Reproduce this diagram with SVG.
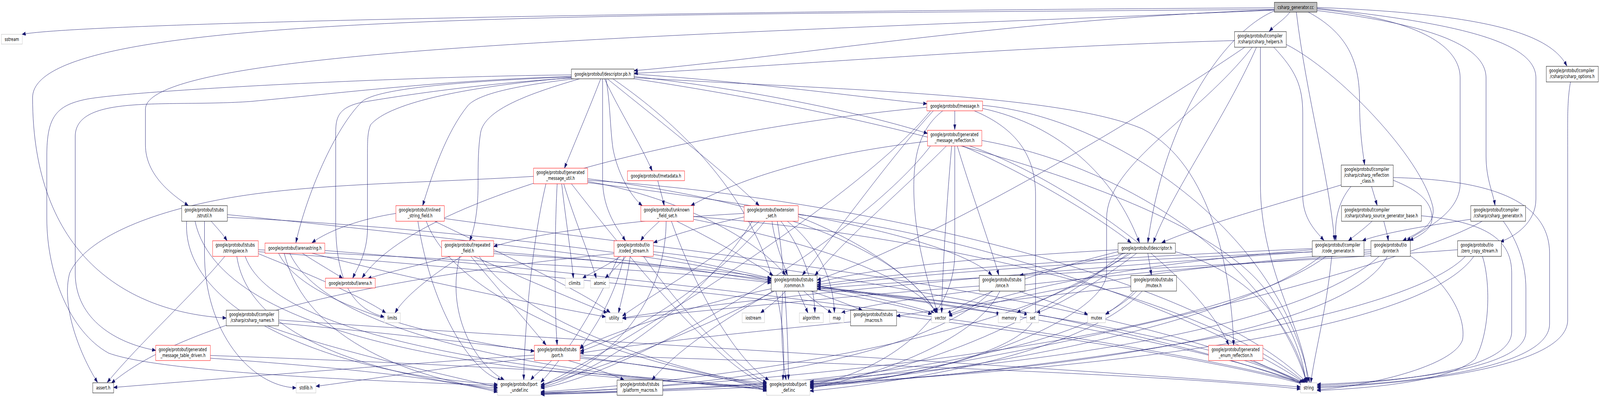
<svg xmlns="http://www.w3.org/2000/svg" width="5743" height="1020" viewBox="0 0 5743 1020" preserveAspectRatio="none">
<style>
:root{width:100vw;height:100vh}
.n rect{fill:#fff;stroke-width:1}
.k{stroke:#000}
.r{stroke:#f00}
.g{stroke:#bfbfbf}
rect.root{fill:#bfbfbf;stroke:#000}
text{font-family:"DejaVu Sans","Liberation Sans",sans-serif;font-size:12.8px;fill:#000}
.c{text-anchor:middle}
#edges path{fill:none;stroke:#191970;stroke-width:1;marker-end:url(#a)}
</style>
<defs>
<marker id="a" markerUnits="userSpaceOnUse" markerWidth="14" markerHeight="10" refX="13" refY="5" orient="auto">
<path d="M0,0.5 L13,5 L0,9.5 z" fill="#191970" stroke="#191970" stroke-width="1"/>
</marker>
</defs>
<rect x="0" y="0" width="5743" height="1020" fill="#fff"/>
<g id="edges">
<path d="M4574,20 C2500,28 300,58 79,88"/>
<path d="M4574,24 C2000,40 117,30 117,250 C117,650 450,800 812,815"/>
<path d="M4574,26 C2500,90 522,120 522,280 L522,371 C522,450 620,500 676,527"/>
<path d="M4574,25 C3600,50 2800,150 2276,181"/>
<path d="M4630,31 C4610,50 4580,62 4556,80"/>
<path d="M4574,28 C4400,80 4180,300 4120,622"/>
<path d="M4653,31 C4690,250 4770,450 4790,616"/>
<path d="M4696,31 C4850,90 4880,170 4880,260 C4880,340 4892,390 4898,422"/>
<path d="M4727,23 C5100,50 5241,120 5241,200 L5241,470 C5241,550 5100,590 5050,617"/>
<path d="M4727,27 C5100,60 5334,110 5334,200 L5334,400 C5334,460 5360,495 5366,526"/>
<path d="M4727,21 C5250,60 5513,110 5513,200 L5513,510 C5513,570 5440,605 5385,620"/>
<path d="M4727,19 C5300,35 5560,80 5624,169"/>
<path d="M4431,104 C3600,120 2800,170 2276,188"/>
<path d="M4510,121 C4400,300 4200,500 4140,622"/>
<path d="M4572,121 C4650,180 4676,220 4676,290 L4676,500 C4676,560 4720,590 4752,616"/>
<path d="M4617,114 C4800,180 5100,400 5143,530 C5155,580 5080,600 5035,617"/>
<path d="M4524,121 L4524,470 C4524,700 4690,850 4693,980"/>
<path d="M4468,121 C4100,300 3400,600 2933,718"/>
<path d="M4495,121 C4300,300 3972,420 3972,560 L3972,700 C3972,800 3500,960 2907,992"/>
<path d="M5637,210 C5625,260 5627,300 5627,400 L5627,820 C5627,950 5000,985 4728,994"/>
<path d="M2156,202 C2120,270 2060,370 2026,431"/>
<path d="M2170,202 C2220,280 2300,370 2341,438"/>
<path d="M2175,202 C2190,260 2190,330 2200,380 C2215,440 2260,500 2305,527"/>
<path d="M2163,202 L2163,460 C2163,540 2220,590 2245,617"/>
<path d="M2180,202 C2350,300 2600,440 2725,527"/>
<path d="M2051,196 C1600,205 1200,240 900,260 C600,275 270,240 270,350 L270,700 C270,820 420,880 559,898"/>
<path d="M2051,192 C1500,195 500,230 312,254 C200,270 168,300 168,400 L168,560 C168,700 250,850 390,905 C600,960 1500,980 1786,988"/>
<path d="M2051,199 C1700,220 1400,260 1330,320 C1319,340 1319,360 1319,400 L1319,585 C1319,650 1280,690 1266,713"/>
<path d="M2051,197 C1600,210 1350,230 1300,260 C1200,330 1100,500 1062,622"/>
<path d="M2060,202 C1850,220 1720,240 1680,270 C1600,340 1550,450 1517,527"/>
<path d="M2080,202 C1900,240 1740,280 1725,340 C1716,380 1716,420 1716,470 C1716,560 1695,600 1686,617"/>
<path d="M2051,200 C1700,215 1400,250 1300,262 C1215,275 1205,300 1205,340 L1205,570 C1205,700 1250,790 1379,812"/>
<path d="M2276,196 C2700,230 3100,290 3329,342"/>
<path d="M2276,190 C2700,210 3100,250 3327,266"/>
<path d="M2276,199 C3000,230 3800,240 4100,330 C4350,420 4420,700 4428,885"/>
<path d="M2276,202 C3200,300 4300,500 4550,750 C4660,860 4680,940 4688,981"/>
<path d="M2200,202 C2500,350 2850,600 2810,974"/>
<path d="M3427,284 L3427,332"/>
<path d="M3384,284 C3300,330 3280,400 3280,480 C3280,620 3340,740 3365,802"/>
<path d="M3527,278 C3800,320 4000,450 4090,622"/>
<path d="M3350,284 C3200,400 3000,600 2880,705"/>
<path d="M3327,275 C2500,330 1500,500 1300,712"/>
<path d="M3497,284 C3650,330 3717,400 3717,500 L3717,800 C3717,900 3200,980 2907,988"/>
<path d="M3340,284 C3100,500 2200,900 1941,990"/>
<path d="M3527,270 C4000,300 4600,600 4700,980"/>
<path d="M3416,374 C3400,500 3382,700 3380,802"/>
<path d="M3436,374 C3480,480 3560,640 3585,705"/>
<path d="M3455,374 C3700,450 3950,560 4060,622"/>
<path d="M3480,374 C3800,450 4300,700 4410,884"/>
<path d="M3329,362 C3000,390 2700,440 2480,527"/>
<path d="M3397,374 C3250,480 3050,600 2925,706"/>
<path d="M3524,360 C4000,420 4550,650 4690,980"/>
<path d="M3427,374 L3427,650 C3427,850 3100,970 2907,985"/>
<path d="M3340,374 C3100,600 2300,950 1941,995"/>
<path d="M2361,463 C2368,485 2378,505 2384,527"/>
<path d="M2016,470 C2030,560 2050,650 2058,713"/>
<path d="M2023,470 C2060,560 2120,660 2140,713"/>
<path d="M1915,452 C1500,470 1100,470 800,510 C500,550 300,620 250,700 C220,780 280,900 350,980"/>
<path d="M2109,462 C3000,500 4300,700 4690,980"/>
<path d="M2109,458 C2600,500 3200,600 3360,802"/>
<path d="M2109,465 C2400,500 2700,600 2820,705"/>
<path d="M2109,468 C2700,520 3400,600 3560,705"/>
<path d="M2000,470 C1990,600 1990,800 2000,884"/>
<path d="M2050,470 C2300,700 2600,950 2752,985"/>
<path d="M1960,470 C1900,650 1880,900 1880,973"/>
<path d="M4814,474 C4600,520 4300,580 4170,622"/>
<path d="M4849,478 C4800,520 4790,570 4795,616"/>
<path d="M4923,478 L4943,526"/>
<path d="M5001,462 C5100,490 5140,520 5140,560 C5140,590 5090,605 5060,617"/>
<path d="M5001,455 C5300,460 5562,500 5562,650 L5562,830 C5562,950 5000,985 4728,991"/>
<path d="M758,567 C780,585 800,600 815,617"/>
<path d="M734,567 L734,650 C734,850 900,990 1063,994"/>
<path d="M816,550 C1500,600 2800,700 3345,805"/>
<path d="M816,557 C1500,580 2400,650 2768,720"/>
<path d="M700,567 C800,900 2000,970 2752,990"/>
<path d="M670,567 C650,800 1200,960 1786,985"/>
<path d="M1421,547 C1300,560 1180,590 1120,622"/>
<path d="M1595,560 C2500,650 4000,750 4680,981"/>
<path d="M1560,567 C1800,650 2100,750 2190,801"/>
<path d="M1530,567 C1650,800 2400,960 2752,982"/>
<path d="M1500,567 C1550,800 1700,960 1800,974"/>
<path d="M2367,567 C2340,585 2315,600 2300,617"/>
<path d="M2429,567 C2550,610 2700,670 2775,706"/>
<path d="M2489,555 C3300,600 4300,750 4685,981"/>
<path d="M2489,562 C2900,620 3250,700 3365,802"/>
<path d="M2410,567 C2500,750 2650,930 2760,974"/>
<path d="M2391,567 C2390,700 2300,900 1941,990"/>
<path d="M2671,556 C2550,575 2420,600 2346,622"/>
<path d="M2771,567 C2780,620 2810,670 2826,705"/>
<path d="M2803,567 C2860,620 2920,700 2925,801"/>
<path d="M2826,567 C2920,620 2990,700 2995,801"/>
<path d="M2725,567 C2600,650 2350,750 2234,810"/>
<path d="M2745,567 C2600,700 2300,850 2083,900"/>
<path d="M2865,555 C3100,620 3300,720 3360,802"/>
<path d="M2865,550 C3500,600 4300,800 4683,981"/>
<path d="M2671,547 C2300,560 1900,600 1772,632"/>
<path d="M2790,567 C2820,700 2830,900 2830,973"/>
<path d="M2700,567 C2500,800 2100,970 1941,992"/>
<path d="M4925,567 C4890,590 4860,605 4840,617"/>
<path d="M4967,567 C4973,585 4980,600 4983,617"/>
<path d="M5102,553 C5350,570 5426,620 5426,700 L5426,850 C5426,950 5000,980 4728,988"/>
<path d="M5279,562 C5100,580 4950,600 4890,617"/>
<path d="M5396,567 C5450,620 5477,680 5477,740 L5477,850 C5477,950 5000,978 4728,985"/>
<path d="M5320,567 C5000,700 3500,950 2907,980"/>
<path d="M807,657 C700,750 500,880 385,980"/>
<path d="M927,650 C1100,700 1300,760 1385,802"/>
<path d="M927,645 C2000,700 4000,850 4680,985"/>
<path d="M927,640 C1500,660 2400,690 2768,725"/>
<path d="M880,657 C1000,900 2200,970 2752,995"/>
<path d="M850,657 C900,900 1500,975 1786,995"/>
<path d="M1085,649 C1130,670 1190,695 1230,713"/>
<path d="M1166,642 C2200,700 4000,850 4683,982"/>
<path d="M1120,649 C1500,720 2000,790 2174,812"/>
<path d="M1000,649 C1100,800 1700,880 1918,900"/>
<path d="M1040,649 C1200,900 2300,975 2752,998"/>
<path d="M1020,649 C1100,880 1500,970 1786,1000"/>
<path d="M1618,657 C1500,680 1380,700 1320,714"/>
<path d="M1657,657 C1560,700 1450,760 1418,802"/>
<path d="M1700,657 C1900,720 2100,780 2180,802"/>
<path d="M1772,645 C2800,700 4200,850 4683,984"/>
<path d="M1772,650 C2200,670 2600,690 2768,715"/>
<path d="M1690,657 C1800,750 1920,850 1960,884"/>
<path d="M1720,657 C1900,850 2500,960 2752,988"/>
<path d="M1650,657 C1600,800 1700,930 1810,974"/>
<path d="M2228,657 C2180,680 2120,700 2091,713"/>
<path d="M2247,657 C2220,680 2190,700 2172,713"/>
<path d="M2262,657 C2250,720 2230,770 2220,802"/>
<path d="M2204,650 C1500,700 700,800 400,982"/>
<path d="M2345,645 C3000,700 4200,850 4684,987"/>
<path d="M2345,652 C2500,670 2650,695 2768,713"/>
<path d="M2240,657 C2200,780 2120,850 2082,895"/>
<path d="M2310,657 C2450,800 2650,950 2752,980"/>
<path d="M2220,657 C2100,850 1980,950 1941,980"/>
<path d="M4120,649 L4133,705"/>
<path d="M4060,649 C3900,720 3700,780 3650,802"/>
<path d="M4080,649 C3950,720 3780,790 3720,802"/>
<path d="M4013,645 C3700,700 3500,760 3400,804"/>
<path d="M4219,645 C4500,700 4650,850 4690,981"/>
<path d="M4013,640 C3500,660 3100,690 2933,725"/>
<path d="M4040,649 C3850,680 3700,700 3660,706"/>
<path d="M4030,649 C3700,850 3200,970 2907,978"/>
<path d="M4050,649 C3600,900 2300,990 1941,1004"/>
<path d="M4780,657 C4760,800 4720,900 4705,981"/>
<path d="M4710,640 C4000,680 3600,750 3400,808"/>
<path d="M4710,645 C3800,690 2700,760 2234,815"/>
<path d="M4710,637 C4000,660 3300,690 2933,730"/>
<path d="M4740,657 C4400,850 3300,970 2907,983"/>
<path d="M4760,657 C4300,900 2500,990 1941,1008"/>
<path d="M5061,655 C5180,716 5263,800 5250,870 C5220,940 4900,990 4728,999"/>
<path d="M4921,650 C4000,700 3200,760 3020,802"/>
<path d="M4921,645 C4100,690 3600,760 3405,810"/>
<path d="M4921,640 C4100,660 3300,700 2933,735"/>
<path d="M4980,657 C4800,900 3300,970 2907,986"/>
<path d="M4950,657 C4500,950 2500,995 1941,1010"/>
<path d="M5321,657 C5350,720 5350,850 5295,920 C5200,980 4900,995 4728,1001"/>
<path d="M5232,640 C4500,680 3400,710 2933,740"/>
<path d="M5260,657 C5000,850 3400,970 2907,990"/>
<path d="M5290,657 C5000,950 2600,1000 1941,1011"/>
<path d="M2820,746 C2790,770 2750,790 2730,802"/>
<path d="M2865,746 L2900,802"/>
<path d="M2885,746 C2920,770 2960,790 2985,802"/>
<path d="M2933,735 C3200,760 3450,790 3590,804"/>
<path d="M2933,738 C3300,760 3600,790 3690,806"/>
<path d="M2933,732 C3100,755 3280,785 3355,803"/>
<path d="M2933,742 C3700,780 4500,900 4680,988"/>
<path d="M2910,746 C2990,765 3060,785 3095,795"/>
<path d="M2774,746 C2650,800 2450,880 2340,974"/>
<path d="M2768,740 C2500,780 2200,850 2082,893"/>
<path d="M2810,746 C2800,850 2810,930 2822,974"/>
<path d="M2780,746 C2500,850 2100,960 1941,986"/>
<path d="M3657,746 C3750,770 3850,790 3905,806"/>
<path d="M3515,733 C3000,760 2500,800 2234,816"/>
<path d="M3589,746 C3500,880 3100,970 2907,995"/>
<path d="M3560,746 C3300,930 2500,995 1941,1006"/>
<path d="M4070,746 C4040,770 4000,790 3968,806"/>
<path d="M4059,735 C3700,760 3400,790 3218,810"/>
<path d="M4100,746 C3900,900 3300,975 2907,1002"/>
<path d="M4080,746 C3800,950 2600,1005 1941,1008"/>
<path d="M3053,825 C2700,850 2300,880 2082,905"/>
<path d="M1000,820 C2000,870 4000,950 4668,992"/>
<path d="M1000,828 C1800,880 2500,950 2752,993"/>
<path d="M960,835 C1200,900 1600,960 1786,993"/>
<path d="M755,911 C1500,930 2400,960 2752,1000"/>
<path d="M755,918 C1200,940 1600,970 1786,1005"/>
<path d="M1918,910 C1500,930 800,970 408,993"/>
<path d="M1918,918 C1600,940 1300,975 1134,990"/>
<path d="M2082,910 C3000,930 4200,960 4668,997"/>
<path d="M2040,924 C2120,940 2200,960 2240,974"/>
<path d="M2082,918 C2400,940 2650,970 2752,1003"/>
<path d="M1980,924 C1950,945 1920,960 1905,974"/>
<path d="M4498,924 C4560,945 4630,965 4677,982"/>
</g>
<g id="n_root" class="n"><rect class="root" x="4574" y="6" width="153" height="25"/><text class="c" x="4650.5" y="23">csharp_generator.cc</text></g>
<g id="n_helpers" class="n"><rect class="k" x="4431" y="81" width="186" height="40"/><text x="4441.5" y="96.5">google/protobuf/compiler</text><text class="c" x="4524" y="111.5">/csharp/csharp_helpers.h</text></g>
<g id="n_sstream" class="n"><rect class="g" x="5" y="88" width="75" height="25"/><text class="c" x="42.5" y="105">sstream</text></g>
<g id="n_descpb" class="n"><rect class="k" x="2051" y="177" width="225" height="25"/><text class="c" x="2163.5" y="194">google/protobuf/descriptor.pb.h</text></g>
<g id="n_options" class="n"><rect class="k" x="5550" y="170" width="187" height="40"/><text x="5560.5" y="185.5">google/protobuf/compiler</text><text class="c" x="5643.5" y="200.5">/csharp/csharp_options.h</text></g>
<g id="n_message" class="n"><rect class="r" x="3327" y="259" width="200" height="25"/><text class="c" x="3427" y="276">google/protobuf/message.h</text></g>
<g id="n_gmr" class="n"><rect class="r" x="3329" y="334" width="195" height="40"/><text x="3339.5" y="349.5">google/protobuf/generated</text><text class="c" x="3426.5" y="364.5">_message_reflection.h</text></g>
<g id="n_metadata" class="n"><rect class="r" x="2252" y="438" width="205" height="25"/><text class="c" x="2354.5" y="455">google/protobuf/metadata.h</text></g>
<g id="n_gmu" class="n"><rect class="r" x="1915" y="431" width="194" height="40"/><text x="1925.5" y="446.5">google/protobuf/generated</text><text class="c" x="2012" y="461.5">_message_util.h</text></g>
<g id="n_reflclass" class="n"><rect class="k" x="4814" y="423" width="187" height="55"/><text x="4824.5" y="438.5">google/protobuf/compiler</text><text x="4824.5" y="453.5">/csharp/csharp_reflection</text><text class="c" x="4907.5" y="468.5">_class.h</text></g>
<g id="n_strutil" class="n"><rect class="k" x="652" y="527" width="164" height="40"/><text x="662.5" y="542.5">google/protobuf/stubs</text><text class="c" x="734" y="557.5">/strutil.h</text></g>
<g id="n_inlined" class="n"><rect class="r" x="1421" y="527" width="174" height="40"/><text x="1431.5" y="542.5">google/protobuf/inlined</text><text class="c" x="1508" y="557.5">_string_field.h</text></g>
<g id="n_ufs" class="n"><rect class="r" x="2300" y="527" width="189" height="40"/><text x="2310.5" y="542.5">google/protobuf/unknown</text><text class="c" x="2394.5" y="557.5">_field_set.h</text></g>
<g id="n_extset" class="n"><rect class="r" x="2671" y="527" width="194" height="40"/><text x="2681.5" y="542.5">google/protobuf/extension</text><text class="c" x="2768" y="557.5">_set.h</text></g>
<g id="n_srcgenbase" class="n"><rect class="k" x="4815" y="527" width="287" height="40"/><text x="4825.5" y="542.5">google/protobuf/compiler</text><text class="c" x="4958.5" y="557.5">/csharp/csharp_source_generator_base.h</text></g>
<g id="n_csgen" class="n"><rect class="k" x="5279" y="527" width="197" height="40"/><text x="5289.5" y="542.5">google/protobuf/compiler</text><text class="c" x="5377.5" y="557.5">/csharp/csharp_generator.h</text></g>
<g id="n_stringpiece" class="n"><rect class="r" x="763" y="617" width="164" height="40"/><text x="773.5" y="632.5">google/protobuf/stubs</text><text class="c" x="845" y="647.5">/stringpiece.h</text></g>
<g id="n_arenastring" class="n"><rect class="r" x="951" y="623" width="215" height="26"/><text class="c" x="1058.5" y="640.5">google/protobuf/arenastring.h</text></g>
<g id="n_repeated" class="n"><rect class="r" x="1585" y="617" width="187" height="40"/><text x="1595.5" y="632.5">google/protobuf/repeated</text><text class="c" x="1678.5" y="647.5">_field.h</text></g>
<g id="n_coded" class="n"><rect class="r" x="2204" y="617" width="141" height="40"/><text x="2214.5" y="632.5">google/protobuf/io</text><text class="c" x="2274.5" y="647.5">/coded_stream.h</text></g>
<g id="n_descriptor" class="n"><rect class="k" x="4013" y="623" width="206" height="26"/><text class="c" x="4116" y="640.5">google/protobuf/descriptor.h</text></g>
<g id="n_codegen" class="n"><rect class="k" x="4710" y="617" width="186" height="40"/><text x="4720.5" y="632.5">google/protobuf/compiler</text><text class="c" x="4803" y="647.5">/code_generator.h</text></g>
<g id="n_printer" class="n"><rect class="k" x="4921" y="617" width="141" height="40"/><text x="4931.5" y="632.5">google/protobuf/io</text><text class="c" x="4991.5" y="647.5">/printer.h</text></g>
<g id="n_zcs" class="n"><rect class="k" x="5232" y="617" width="157" height="40"/><text x="5242.5" y="632.5">google/protobuf/io</text><text class="c" x="5310.5" y="647.5">/zero_copy_stream.h</text></g>
<g id="n_arena" class="n"><rect class="r" x="1168" y="713" width="179" height="25"/><text class="c" x="1257.5" y="730">google/protobuf/arena.h</text></g>
<g id="n_climits" class="n"><rect class="g" x="2029" y="713" width="67" height="25"/><text class="c" x="2062.5" y="730">climits</text></g>
<g id="n_atomic" class="n"><rect class="g" x="2120" y="713" width="67" height="25"/><text class="c" x="2153.5" y="730">atomic</text></g>
<g id="n_common" class="n"><rect class="k" x="2768" y="706" width="165" height="40"/><text x="2778.5" y="721.5">google/protobuf/stubs</text><text class="c" x="2850.5" y="736.5">/common.h</text></g>
<g id="n_once" class="n"><rect class="k" x="3515" y="706" width="164" height="40"/><text x="3525.5" y="721.5">google/protobuf/stubs</text><text class="c" x="3597" y="736.5">/once.h</text></g>
<g id="n_mutexh" class="n"><rect class="k" x="4059" y="706" width="164" height="40"/><text x="4069.5" y="721.5">google/protobuf/stubs</text><text class="c" x="4141" y="736.5">/mutex.h</text></g>
<g id="n_limits" class="n"><rect class="g" x="1379" y="802" width="58" height="25"/><text class="c" x="1408" y="819">limits</text></g>
<g id="n_utility" class="n"><rect class="g" x="2174" y="802" width="60" height="25"/><text class="c" x="2204" y="819">utility</text></g>
<g id="n_iostream" class="n"><rect class="g" x="2664" y="802" width="80" height="25"/><text class="c" x="2704" y="819">iostream</text></g>
<g id="n_algorithm" class="n"><rect class="g" x="2869" y="802" width="86" height="25"/><text class="c" x="2912" y="819">algorithm</text></g>
<g id="n_map" class="n"><rect class="g" x="2978" y="802" width="51" height="25"/><text class="c" x="3003.5" y="819">map</text></g>
<g id="n_macros" class="n"><rect class="k" x="3053" y="795" width="165" height="40"/><text x="3063.5" y="810.5">google/protobuf/stubs</text><text class="c" x="3135.5" y="825.5">/macros.h</text></g>
<g id="n_vector" class="n"><rect class="g" x="3344" y="802" width="63" height="25"/><text class="c" x="3375.5" y="819">vector</text></g>
<g id="n_memory" class="n"><rect class="g" x="3583" y="802" width="79" height="25"/><text class="c" x="3622.5" y="819">memory</text></g>
<g id="n_set" class="n"><rect class="g" x="3685" y="802" width="43" height="25"/><text class="c" x="3706.5" y="819">set</text></g>
<g id="n_mutex" class="n"><rect class="g" x="3904" y="802" width="64" height="25"/><text class="c" x="3936" y="819">mutex</text></g>
<g id="n_names" class="n"><rect class="k" x="812" y="795" width="188" height="40"/><text x="822.5" y="810.5">google/protobuf/compiler</text><text class="c" x="906" y="825.5">/csharp/csharp_names.h</text></g>
<g id="n_gmtd" class="n"><rect class="r" x="559" y="885" width="196" height="39"/><text x="569.5" y="900">google/protobuf/generated</text><text class="c" x="657" y="915">_message_table_driven.h</text></g>
<g id="n_port" class="n"><rect class="r" x="1918" y="885" width="164" height="39"/><text x="1928.5" y="900">google/protobuf/stubs</text><text class="c" x="2000" y="915">/port.h</text></g>
<g id="n_ger" class="n"><rect class="r" x="4338" y="885" width="195" height="39"/><text x="4348.5" y="900">google/protobuf/generated</text><text class="c" x="4435.5" y="915">_enum_reflection.h</text></g>
<g id="n_assert" class="n"><rect class="k" x="333" y="981" width="75" height="26"/><text class="c" x="370.5" y="998.5">assert.h</text></g>
<g id="n_stdlib" class="n"><rect class="g" x="1063" y="981" width="71" height="26"/><text class="c" x="1098.5" y="998.5">stdlib.h</text></g>
<g id="n_portundef" class="n"><rect class="g" x="1786" y="974" width="155" height="39"/><text x="1796.5" y="989">google/protobuf/port</text><text class="c" x="1863.5" y="1004">_undef.inc</text></g>
<g id="n_platform" class="n"><rect class="k" x="2215" y="974" width="164" height="39"/><text x="2225.5" y="989">google/protobuf/stubs</text><text class="c" x="2297" y="1004">/platform_macros.h</text></g>
<g id="n_portdef" class="n"><rect class="g" x="2752" y="974" width="155" height="39"/><text x="2762.5" y="989">google/protobuf/port</text><text class="c" x="2829.5" y="1004">_def.inc</text></g>
<g id="n_string" class="n"><rect class="g" x="4668" y="981" width="59" height="26"/><text class="c" x="4697.5" y="998.5">string</text></g>
</svg>
